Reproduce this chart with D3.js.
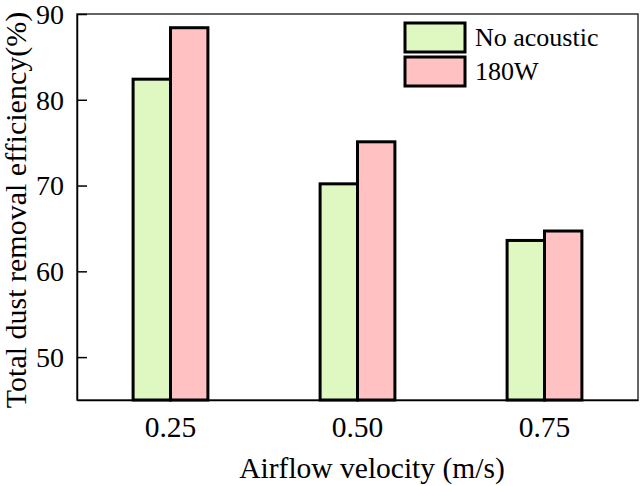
<!DOCTYPE html>
<html>
<head>
<meta charset="utf-8">
<script src="https://cdn.jsdelivr.net/npm/d3@7"></script>
<style>
  body { margin: 0; background: #fff; }
  svg text { font-family: "Liberation Serif", "Times New Roman", serif; fill: #000; }
</style>
</head>
<body>
<div id="chart"></div>
<script>
const categories = ["0.25", "0.50", "0.75"]
const seriesNames = ["No acoustic", "180W"]
const noAcoustic = [82.4, 70.2, 63.6]
const acoustic180 = [88.4, 75.1, 64.7]
const yTicks = [50, 60, 70, 80, 90]
const colors = ["#dff7c0", "#ffc1c1"]

const width = 642
const height = 486
const margin = {top: 14, right: 4, bottom: 86, left: 77}
const w = width - margin.left - margin.right
const h = height - margin.top - margin.bottom

const svg = d3.select('#chart')
  .append("svg")
  .attr("width", width)
  .attr("height", height)

const g = svg.append("g")
  .attr("transform", `translate(${margin.left},${margin.top})`)

const plotData = categories.map((c, i) => ({
  cat: c,
  values: [
    {name: seriesNames[0], value: noAcoustic[i]},
    {name: seriesNames[1], value: acoustic180[i]}
  ]
}))

const x0 = d3.scaleBand().domain(categories).range([0, w]).paddingInner(0.6).paddingOuter(0.3)
const x1 = d3.scaleBand().domain(seriesNames).range([0, x0.bandwidth()])
const y = d3.scaleLinear().domain([45, 90]).range([h, 0])
const color = d3.scaleOrdinal().domain(seriesNames).range(colors)

// frame
g.append("rect")
  .attr("width", w)
  .attr("height", h)
  .attr("fill", "none")
  .attr("stroke", "#333")
  .attr("stroke-width", 1.5)

// bars
g.selectAll('.group')
  .data(plotData)
  .enter()
  .append('g')
  .attr('transform', d => `translate(${x0(d.cat)},0)`)
  .selectAll('rect')
  .data(d => d.values)
  .enter()
  .append('rect')
  .attr('x', d => x1(d.name))
  .attr('y', d => y(d.value))
  .attr('width', x1.bandwidth())
  .attr('height', d => h - y(d.value))
  .attr('fill', d => color(d.name))
  .attr('stroke', '#000')
  .attr('stroke-width', 3)

// y axis, ticks point inward
const yAxis = g.append("g")
  .call(d3.axisLeft(y).tickValues(yTicks).tickSizeInner(-10).tickSizeOuter(0).tickPadding(13))
  .attr("font-family", null)
yAxis.select(".domain").attr("stroke", "#000").attr("stroke-width", 1.5)
yAxis.selectAll(".tick line").attr("stroke", "#000").attr("stroke-width", 1.5)
yAxis.selectAll("text").style("font-size", "28px").attr("dy", "0.33em")

// x axis, no tick marks
const xAxis = g.append("g")
  .attr("transform", `translate(0,${h})`)
  .call(d3.axisBottom(x0).tickSize(0).tickPadding(16))
  .attr("font-family", null)
xAxis.select(".domain").attr("stroke", "#000").attr("stroke-width", 1.5)
xAxis.selectAll("text").style("font-size", "29.5px")

// axis titles
svg.append("text")
  .attr("x", 372)
  .attr("y", 478)
  .style("text-anchor", "middle")
  .style("font-size", "29.5px")
  .text("Airflow velocity (m/s)")

svg.append("text")
  .attr("transform", "translate(26,210) rotate(-90)")
  .style("text-anchor", "middle")
  .style("font-size", "30px")
  .text("Total dust removal efficiency(%)")

// legend
const legend = svg.append("g")
  .attr("transform", "translate(405,23)")
seriesNames.forEach((s, i) => {
  const row = legend.append("g").attr("transform", `translate(0,${i * 34})`)
  row.append("rect")
    .attr("width", 60)
    .attr("height", 29)
    .attr("fill", color(s))
    .attr("stroke", "#000")
    .attr("stroke-width", 3)
  row.append("text")
    .attr("x", 70)
    .attr("y", 23)
    .style("font-size", "26px")
    .text(s)
})
</script>
</body>
</html>
